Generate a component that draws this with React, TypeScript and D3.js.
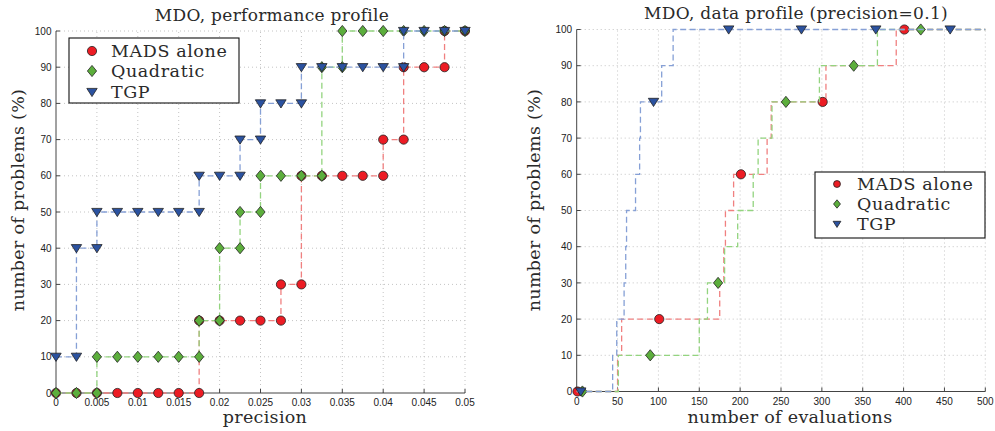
import React, { useEffect, useRef } from "react";
import * as d3 from "d3";

const W = 995;
const H = 431;

// left panel: performance profile, one value per precision step
const precision = [0, 0.0025, 0.005, 0.0075, 0.01, 0.0125, 0.015, 0.0175, 0.02, 0.0225, 0.025,
  0.0275, 0.03, 0.0325, 0.035, 0.0375, 0.04, 0.0425, 0.045, 0.0475, 0.05];
const perfMads = [0, 0, 0, 0, 0, 0, 0, 20, 20, 20, 20, 30, 60, 60, 60, 60, 70, 90, 90, 100, 100];
const perfQuad = [0, 0, 10, 10, 10, 10, 10, 20, 40, 50, 60, 60, 60, 90, 100, 100, 100, 100, 100, 100, 100];
const perfTgp = [10, 40, 50, 50, 50, 50, 50, 60, 60, 70, 80, 80, 90, 90, 90, 90, 90, 100, 100, 100, 100];
const precisionTicks = [0, 0.005, 0.01, 0.015, 0.02, 0.025, 0.03, 0.035, 0.04, 0.045, 0.05];

// right panel: data profile, evaluations where each level is reached
const levels = [10, 20, 30, 40, 50, 60, 70, 80, 90, 100];
const madsEvals = [50, 55, 175, 180, 182, 192, 233, 238, 305, 391];
const quadEvals = [51, 150, 160, 181, 197, 216, 222, 239, 297, 368];
const tgpEvals = [44, 49, 58, 60, 61, 72, 77, 78, 104, 118];
// markers are only drawn every few points
const madsMarks = [1, 101, 201, 301, 401];
const quadMarks = [7, 90, 173, 256, 339, 421];
const tgpMarks = [5, 94, 186, 275, 366, 457];
const evalTicks = [0, 50, 100, 150, 200, 250, 300, 350, 400, 450, 500];
const percentTicks = [0, 10, 20, 30, 40, 50, 60, 70, 80, 90, 100];

const names = ["MADS alone", "Quadratic", "TGP"];
const shapes = ["circle", "diamond", "triangle"];
const fills = ["#ec1c24", "#5cae3c", "#2b52a0"];
const strokes = ["#f08080", "#93d47f", "#86a0d6"];

const SERIF = "'DejaVu Serif', 'Liberation Serif', serif";
const SANS = "'Liberation Sans', Arial, sans-serif";

const shapePath = (shape, s = 1) => {
  if (shape === "circle") return d3.symbol(d3.symbolCircle, Math.PI * 4.6 * 4.6 * s * s)();
  if (shape === "diamond") return `M0,${-5.6 * s}L${4.6 * s},0L0,${5.6 * s}L${-4.6 * s},0Z`;
  return `M${-5.2 * s},${-3.6 * s}L${5.2 * s},${-3.6 * s}L0,${4.6 * s}Z`;
};

const App = () => {
  const svgRef = useRef();

  useEffect(() => {
    const svg = d3.select(svgRef.current);
    svg.selectAll("*").remove();

    const drawFrame = (x, y, ticks, fmt) => {
      const g = svg.append("g");
      const [x0, x1] = x.range();
      const [y0, y1] = y.range();
      // dotted grid
      g.selectAll(".gx").data(ticks.slice(1)).enter().append("line")
        .attr("x1", d => x(d)).attr("x2", d => x(d))
        .attr("y1", y0).attr("y2", y1)
        .style("stroke", "#c4c4c4").style("stroke-dasharray", "1,3");
      g.selectAll(".gy").data(percentTicks.slice(1)).enter().append("line")
        .attr("x1", x0).attr("x2", x1)
        .attr("y1", d => y(d)).attr("y2", d => y(d))
        .style("stroke", "#c4c4c4").style("stroke-dasharray", "1,3");
      // axes lines and inward ticks
      g.append("line").attr("x1", x0).attr("x2", x1).attr("y1", y0).attr("y2", y0)
        .style("stroke", "#444");
      g.append("line").attr("x1", x0).attr("x2", x0).attr("y1", y0).attr("y2", y1)
        .style("stroke", "#444");
      g.selectAll(".tx").data(ticks).enter().append("line")
        .attr("x1", d => x(d)).attr("x2", d => x(d))
        .attr("y1", y0).attr("y2", y0 - 4).style("stroke", "#444");
      g.selectAll(".ty").data(percentTicks).enter().append("line")
        .attr("x1", x0).attr("x2", x0 + 4)
        .attr("y1", d => y(d)).attr("y2", d => y(d)).style("stroke", "#444");
      g.selectAll(".lx").data(ticks).enter().append("text")
        .attr("x", d => x(d)).attr("y", y0 + 13)
        .attr("text-anchor", "middle")
        .style("font-family", SANS).style("font-size", "10px").style("fill", "#222")
        .text(fmt);
      g.selectAll(".ly").data(percentTicks).enter().append("text")
        .attr("x", x0 - 4.5).attr("y", d => y(d) + 3.6)
        .attr("text-anchor", "end")
        .style("font-family", SANS).style("font-size", "10px").style("fill", "#222")
        .text(d => d);
    };

    const serifText = (x, y, txt, size, rotate = false) => {
      const t = svg.append("text")
        .attr("text-anchor", "middle")
        .style("font-family", SERIF).style("font-size", `${size}px`)
        .style("letter-spacing", "0.3px").style("fill", "#2a2a2a")
        .text(txt);
      if (rotate) t.attr("transform", `translate(${x},${y}) rotate(-90)`);
      else t.attr("x", x).attr("y", y);
    };

    const drawSeries = (pts, marks, x, y, i) => {
      const line = d3.line().x(d => x(d[0])).y(d => y(d[1]));
      svg.append("path").datum(pts).attr("d", line)
        .style("fill", "none").style("stroke", strokes[i])
        .style("stroke-width", 1.3).style("stroke-dasharray", "6,3.5");
      svg.selectAll(null).data(marks).enter().append("path")
        .attr("transform", d => `translate(${x(d[0])},${y(d[1])})`)
        .attr("d", shapePath(shapes[i]))
        .style("fill", fills[i]).style("stroke", "#222").style("stroke-width", 0.8);
    };

    const drawLegend = (bx, by, bw, bh, mx, tx, rows, s) => {
      svg.append("rect").attr("x", bx).attr("y", by).attr("width", bw).attr("height", bh)
        .style("fill", "white").style("stroke", "#111").style("stroke-width", 1.1);
      names.forEach((n, i) => {
        svg.append("path").attr("transform", `translate(${mx},${rows[i]})`)
          .attr("d", shapePath(shapes[i], s))
          .style("fill", fills[i]).style("stroke", "#222").style("stroke-width", 0.8);
        svg.append("text").attr("x", tx).attr("y", rows[i] + 6)
          .style("font-family", SERIF).style("font-size", "17.5px")
          .style("letter-spacing", "0.6px").style("fill", "#2a2a2a")
          .text(n);
      });
    };

    // ---------- left: performance profile ----------
    const xL = d3.scaleLinear().domain([0, 0.05]).range([56, 465]);
    const yL = d3.scaleLinear().domain([0, 100]).range([393, 31]);
    drawFrame(xL, yL, precisionTicks, d => String(d));

    [perfMads, perfQuad, perfTgp].forEach((vals, i) => {
      const pts = [];
      precision.forEach((p, k) => {
        if (k > 0 && vals[k] !== vals[k - 1]) pts.push([p, vals[k - 1]]);
        pts.push([p, vals[k]]);
      });
      drawSeries(pts, pts, xL, yL, i);
    });

    serifText(272, 21, "MDO, performance profile", 17);
    serifText(265, 423, "precision", 17.5);
    serifText(24, 200, "number of problems (%)", 17.5, true);
    drawLegend(69, 38, 170, 65, 92, 111, [51, 71, 92], 1);

    // ---------- right: data profile ----------
    const xR = d3.scaleLinear().domain([0, 500]).range([576.7, 985.3]);
    const yR = d3.scaleLinear().domain([0, 100]).range([391.5, 29.5]);
    drawFrame(xR, yR, evalTicks, d => d);

    [madsEvals, quadEvals, tgpEvals].forEach((ev, i) => {
      const pts = [[0, 0]];
      let prev = 0;
      ev.forEach((e, k) => {
        pts.push([e, prev]);
        pts.push([e, levels[k]]);
        prev = levels[k];
      });
      pts.push([500, prev]);
      const valueAt = m => {
        let v = 0;
        ev.forEach((e, k) => { if (e <= m) v = levels[k]; });
        return v;
      };
      const marks = [madsMarks, quadMarks, tgpMarks][i].map(m => [m, valueAt(m)]);
      drawSeries(pts, marks, xR, yR, i);
    });

    serifText(796, 19, "MDO, data profile (precision=0.1)", 17);
    serifText(790, 423, "number of evaluations", 17.5);
    serifText(540, 200, "number of problems (%)", 17.5, true);
    drawLegend(815, 172, 170, 66, 837, 857, [184, 204, 224], 0.75);
  }, []);

  return (
    <svg
      ref={svgRef}
      width={W}
      height={H}
      style={{ position: "absolute", left: 0, top: 0, background: "white" }}
    />
  );
};

export default App;
